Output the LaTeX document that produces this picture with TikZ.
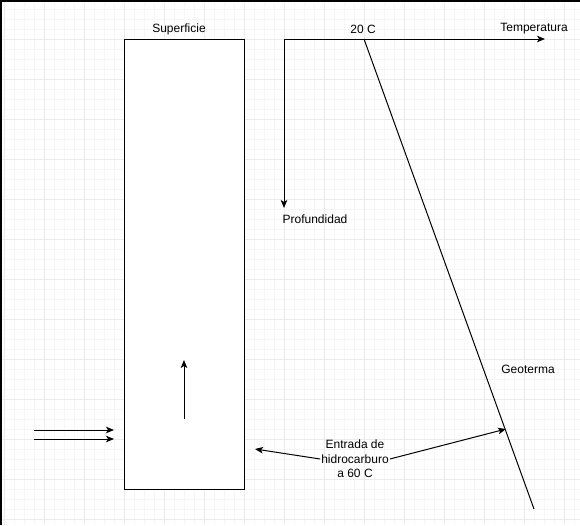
\documentclass[tikz,border=0pt]{standalone}
\usepackage{fontspec}
\setmainfont{Liberation Sans}
\usetikzlibrary{arrows.meta}
\begin{document}
\begin{tikzpicture}[x=1pt,y=-1pt,
  lbl/.style={inner sep=1pt,font=\fontsize{12}{14.5}\selectfont,text=black},
  ln/.style={line width=1pt,black},
  arr/.style={ln,-{Stealth[length=8pt,width=6.5pt,inset=2pt]}}]
\useasboundingbox (0,0) rectangle (580,525);
\fill[white] (0,0) rectangle (580,525);
% grid
\foreach \x in {4,14,...,580} \draw[gray!7,line width=0.8pt] (\x,0) -- (\x,525);
\foreach \y in {9,19,...,525} \draw[gray!7,line width=0.8pt] (0,\y) -- (580,\y);
\foreach \x in {4,44,...,580} \draw[gray!16,line width=0.8pt] (\x,0) -- (\x,525);
\foreach \y in {39,79,...,525} \draw[gray!16,line width=0.8pt] (0,\y) -- (580,\y);
% frame edges
\draw[black,line width=1.5pt] (0,0.75) -- (580,0.75);
\draw[black,line width=1.5pt] (0.75,0) -- (0.75,525);
% well
\node[draw,ln,fill=white,minimum width=120pt,minimum height=450pt,inner sep=0pt] (well) at (184,264) {};
\node[lbl] (sup) at (179,29) {Superficie};
\coordinate (upA) at (184,419);
\coordinate (upB) at (184,360);
\draw[arr] (upA) -- (upB);
\coordinate (in1a) at (34,430);
\coordinate (in1b) at (114,430);
\coordinate (in2a) at (34,439);
\coordinate (in2b) at (114,439);
\draw[arr] (in1a) -- (in1b);
\draw[arr] (in2a) -- (in2b);
% axes
\coordinate (orig) at (284,39);
\coordinate (tEnd) at (545,39);
\coordinate (pEnd) at (284,208);
\draw[arr] (orig) -- (tEnd);
\draw[arr] (orig) -- (pEnd);
\node[lbl] (temp) at (534,29) {Temperatura};
\node[lbl] (prof) at (315,219) {Profundidad};
\node[lbl] (t20) at (363,29) {20 C};
% geotherm
\coordinate (gA) at (364,39);
\coordinate (gB) at (534,509);
\draw[ln] (gA) -- (gB);
\node[lbl] (geo) at (528,369) {Geoterma};
% entry label
\node[lbl,align=center] (ent) at (355,459) {Entrada de\\hidrocarburo\\a 60 C};
\coordinate (eL) at (255,449);
\coordinate (eR) at (506,429);
\draw[arr] (ent.west) -- (eL);
\draw[arr] (ent.east) -- (eR);
\end{tikzpicture}
\end{document}
